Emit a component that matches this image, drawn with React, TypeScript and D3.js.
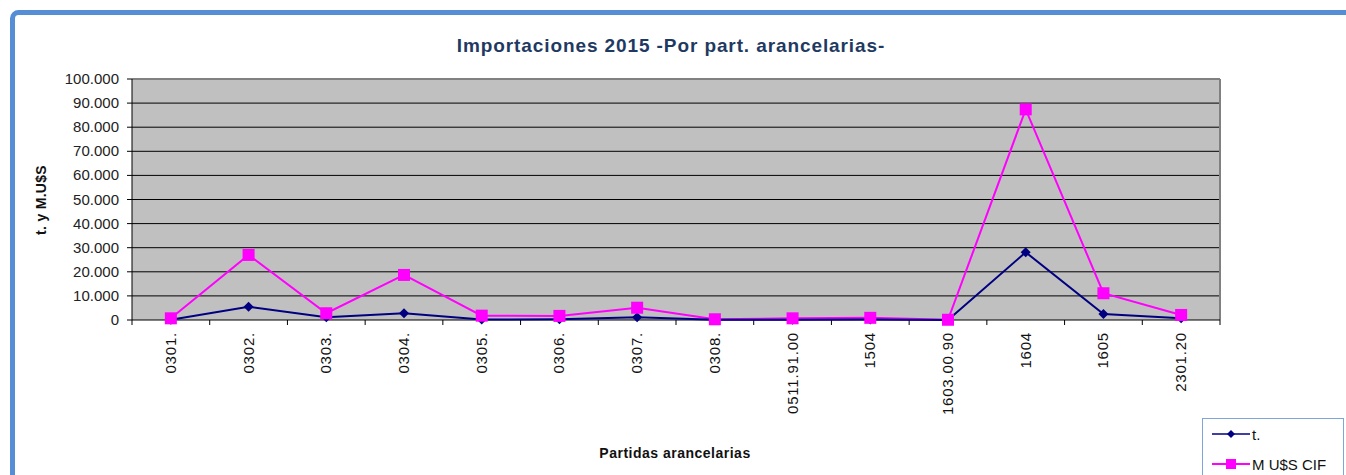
import React from "react";
import * as d3 from "d3";

const categories = ["0301.", "0302.", "0303.", "0304.", "0305.", "0306.", "0307.", "0308.", "0511.91.00", "1504", "1603.00.90", "1604", "1605", "2301.20"];
const tonnes = [100, 5500, 1100, 2800, 200, 300, 1100, 100, 100, 200, 50, 28100, 2500, 700];
const musdCif = [700, 27000, 2800, 18700, 1800, 1700, 5100, 300, 700, 900, 100, 87400, 11100, 2100];
const yTicks = [0, 10000, 20000, 30000, 40000, 50000, 60000, 70000, 80000, 90000, 100000];
const seriesNames = ["t.", "M U$S CIF"];

const W = 1346, H = 475;
const plot = { left: 132, top: 79, right: 1220, bottom: 320 };

const fmt = (v: number) => v === 0 ? "0" : d3.format(",")(v).replace(/,/g, ".");

export default function App() {
  const x = d3.scaleBand<string>().domain(categories).range([plot.left, plot.right]);
  const y = d3.scaleLinear().domain([0, 100000]).range([plot.bottom, plot.top]);
  const cx = (c: string) => (x(c) as number) + x.bandwidth() / 2;
  const line = d3.line<number>().x((_, i) => cx(categories[i])).y((d) => y(d));
  const font = "Arial, 'Liberation Sans', sans-serif";
  const diamond = (px: number, py: number, r: number) => `M${px},${py - r}L${px + r},${py}L${px},${py + r}L${px - r},${py}Z`;

  return (
    <svg width={W} height={H} style={{ position: "absolute", left: 0, top: 0 }} fontFamily={font}>
      <rect x={0} y={0} width={W} height={H} fill="#fff" />
      <rect x={12.5} y={12.5} width={W + 40} height={H + 40} rx={6} fill="#fff" stroke="#558ed5" strokeWidth={5} />
      <text x={671} y={52} textAnchor="middle" fontSize={19} fontWeight="bold" letterSpacing={0.9} fill="#1f3a62">Importaciones 2015 -Por part. arancelarias-</text>
      <rect x={plot.left} y={plot.top} width={plot.right - plot.left} height={plot.bottom - plot.top} fill="#c0c0c0" />
      {yTicks.filter((t) => t > 0 && t < 100000).map((t) => (
        <line key={t} x1={plot.left} x2={plot.right} y1={y(t)} y2={y(t)} stroke="#000" strokeWidth={1} />
      ))}
      <line x1={plot.left} x2={plot.right} y1={plot.top} y2={plot.top} stroke="#808080" strokeWidth={2} />
      <line x1={plot.right} x2={plot.right} y1={plot.top} y2={plot.bottom} stroke="#808080" strokeWidth={2} />
      <line x1={plot.left} x2={plot.left} y1={plot.top} y2={plot.bottom + 5} stroke="#000" strokeWidth={1} />
      <line x1={plot.left} x2={plot.right} y1={plot.bottom} y2={plot.bottom} stroke="#000" strokeWidth={1} />
      {yTicks.map((t) => (
        <g key={t}>
          <line x1={plot.left - 5} x2={plot.left} y1={y(t)} y2={y(t)} stroke="#000" />
          <text x={119} y={y(t) + 5} textAnchor="end" fontSize={15} fill="#222">{fmt(t)}</text>
        </g>
      ))}
      {categories.map((c, i) => (
        <g key={c}>
          <line x1={(x(c) as number) + x.bandwidth()} x2={(x(c) as number) + x.bandwidth()} y1={plot.bottom} y2={plot.bottom + 5} stroke="#000" />
          <text transform={`translate(${cx(c) + 5},${332}) rotate(-90)`} textAnchor="end" fontSize={15} letterSpacing={0.8} fill="#111">{c}</text>
        </g>
      ))}
      <text transform={`translate(46,200) rotate(-90)`} textAnchor="middle" fontSize={14} fontWeight="bold" letterSpacing={0.3} fill="#111">t. y M.U$S</text>
      <text x={675} y={458} textAnchor="middle" fontSize={14} fontWeight="bold" letterSpacing={0.5} fill="#111">Partidas arancelarias</text>

      <path d={line(musdCif) as string} fill="none" stroke="#ff00ff" strokeWidth={2} />
      <path d={line(tonnes) as string} fill="none" stroke="#000080" strokeWidth={2} />
      {tonnes.map((v, i) => (
        <path key={"t" + i} d={diamond(cx(categories[i]), y(v), 5)} fill="#000080" />
      ))}
      {musdCif.map((v, i) => (
        <rect key={"m" + i} x={cx(categories[i]) - 6} y={y(v) - 6} width={12} height={12} fill="#ff00ff" />
      ))}

      <rect x={1202.5} y={418.5} width={141} height={70} fill="#fff" stroke="#7ea6d9" strokeWidth={1} />
      <line x1={1212} x2={1250} y1={434} y2={434} stroke="#000080" strokeWidth={1.5} />
      <path d={diamond(1231, 434, 4)} fill="#000080" />
      <text x={1252} y={440} fontSize={15} fill="#111">{seriesNames[0]}</text>
      <line x1={1212} x2={1250} y1={464} y2={464} stroke="#ff00ff" strokeWidth={2} />
      <rect x={1226} y={459} width={10} height={10} fill="#ff00ff" />
      <text x={1252} y={470} fontSize={15} fill="#111">{seriesNames[1]}</text>
    </svg>
  );
}
